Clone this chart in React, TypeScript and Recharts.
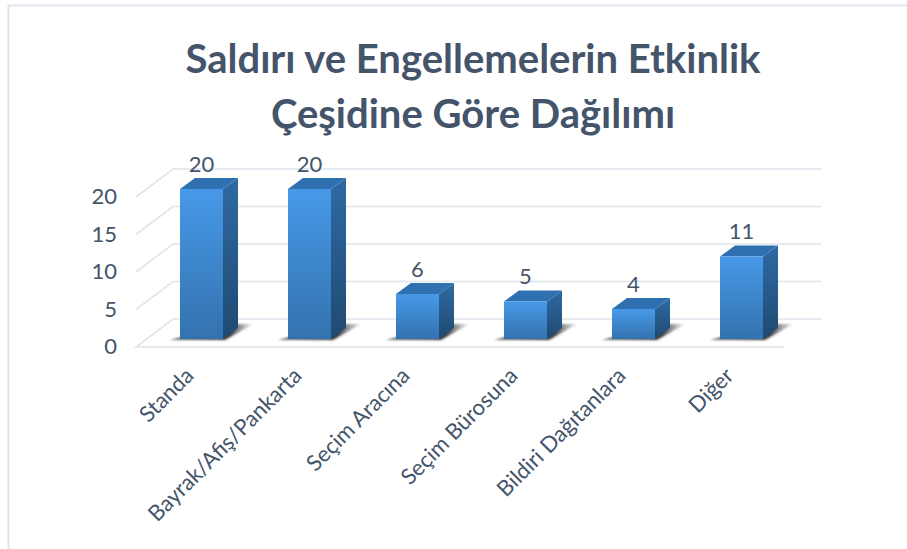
import React from 'react';
import { BarChart, Bar, XAxis, YAxis, CartesianGrid, LabelList } from 'recharts';

const categories = ['Standa', 'Bayrak/Afiş/Pankarta', 'Seçim Aracına', 'Seçim Bürosuna', 'Bildiri Dağıtanlara', 'Diğer'];
const counts = [20, 20, 6, 5, 4, 11];
const yTicks = [0, 5, 10, 15, 20];
const titleLines = ['Saldırı ve Engellemelerin Etkinlik', 'Çeşidine Göre Dağılımı'];

const data = categories.map((name, i) => ({ name, value: counts[i] }));

const FONT = 'Lato, sans-serif';
const TEXT = '#44546a';
const GRID = '#e0e4ec';
// kayma: ön düzlem -> arka duvar
const WALL_DX = 37;
const WALL_DY = -28;
// kayma: ön düzlem -> sütunun ön yüzü
const BAR_DX = 11;
const BAR_DY = -8;
const DEPTH_X = 15;
const DEPTH_Y = -11;

const Bar3D = ({ x, y, width, height }: any) => {
  const l = x + BAR_DX;
  const r = l + width;
  const t = y + BAR_DY;
  const b = t + height;
  return (
    <g>
      <polygon
        points={`${l - 10},${b + 1} ${r + 2},${b + 1} ${r + 30},${b - 15} ${r + 6},${b - 15}`}
        fill="url(#shadowFill)"
        filter="url(#soft)"
      />
      <polygon
        points={`${r},${t} ${r + DEPTH_X},${t + DEPTH_Y} ${r + DEPTH_X},${b + DEPTH_Y} ${r},${b}`}
        fill="url(#sideFill)"
      />
      <polygon
        points={`${l},${t} ${l + DEPTH_X},${t + DEPTH_Y} ${r + DEPTH_X},${t + DEPTH_Y} ${r},${t}`}
        fill="#2f70b0"
      />
      <rect x={l} y={t} width={width} height={height} fill="url(#frontFill)" />
    </g>
  );
};

const GridLine = ({ x1, y1, x2, index }: any) => {
  const back = `${x1},${y1} ${x1 + WALL_DX},${y1 + WALL_DY} ${x2 + WALL_DX},${y1 + WALL_DY}`;
  // en alttaki çizgi zemin: ön kenarı da çizilir
  const isFloor = y1 > 340;
  return (
    <polyline
      points={isFloor ? `${x2},${y1} ${back}` : back}
      fill="none"
      stroke={GRID}
      strokeWidth={1.6}
      key={index}
    />
  );
};

const CategoryTick = ({ x, y, payload }: any) => (
  <text
    x={x + 5}
    y={y + 22}
    textAnchor="end"
    fontFamily={FONT}
    fontSize={22}
    fill={TEXT}
    transform={`rotate(-45 ${x + 5} ${y + 22})`}
  >
    {payload.value}
  </text>
);

const ValueTick = ({ y, payload }: any) => (
  <text x={117} y={y + 7} textAnchor="end" fontFamily={FONT} fontSize={22} fill={TEXT}>
    {payload.value}
  </text>
);

const ValueLabel = ({ x, y, width, value }: any) => (
  <text x={x + BAR_DX + width / 2} y={y + BAR_DY - 17.5} textAnchor="middle" fontFamily={FONT} fontSize={22} fill={TEXT}>
    {value}
  </text>
);

export default function App() {
  return (
    <div style={{ position: 'absolute', left: 0, top: 0, width: 907, height: 549, background: '#fff' }}>
      <BarChart
        width={907}
        height={549}
        data={data}
        barSize={43}
        margin={{ top: 197, right: 123, bottom: 0, left: 96 }}
      >
        <defs>
          <linearGradient id="frontFill" x1="0" y1="0" x2="0" y2="1">
            <stop offset="0%" stopColor="#4799e8" />
            <stop offset="100%" stopColor="#3372ae" />
          </linearGradient>
          <linearGradient id="sideFill" x1="0" y1="0" x2="0" y2="1">
            <stop offset="0%" stopColor="#2f6aa3" />
            <stop offset="100%" stopColor="#1f4a72" />
          </linearGradient>
          <linearGradient id="shadowFill" x1="0" y1="0" x2="1" y2="0">
            <stop offset="0%" stopColor="#444" stopOpacity={0.75} />
            <stop offset="72%" stopColor="#222" stopOpacity={0.9} />
            <stop offset="100%" stopColor="#777" stopOpacity={0.15} />
          </linearGradient>
          <filter id="soft">
            <feGaussianBlur stdDeviation={1.2} />
          </filter>
        </defs>
        <polyline points="8.5,549 8.5,5.5 907,5.5" fill="none" stroke="#e1e6ee" strokeWidth={2} />
        {titleLines.map((line, i) => (
          <text
            key={line}
            x={473}
            y={73 + i * 55}
            textAnchor="middle"
            fontFamily={FONT}
            fontWeight={700}
            fontSize={40}
            fill={TEXT}
          >
            {line}
          </text>
        ))}
        <CartesianGrid horizontal={GridLine} vertical={false} />
        <XAxis dataKey="name" axisLine={false} tickLine={false} interval={0} tick={CategoryTick} height={202} />
        <YAxis
          domain={[0, 20]}
          ticks={yTicks}
          axisLine={false}
          tickLine={false}
          width={40}
          tick={ValueTick}
        />
        <Bar dataKey="value" isAnimationActive={false} shape={Bar3D}>
          <LabelList dataKey="value" content={ValueLabel} />
        </Bar>
      </BarChart>
    </div>
  );
}
